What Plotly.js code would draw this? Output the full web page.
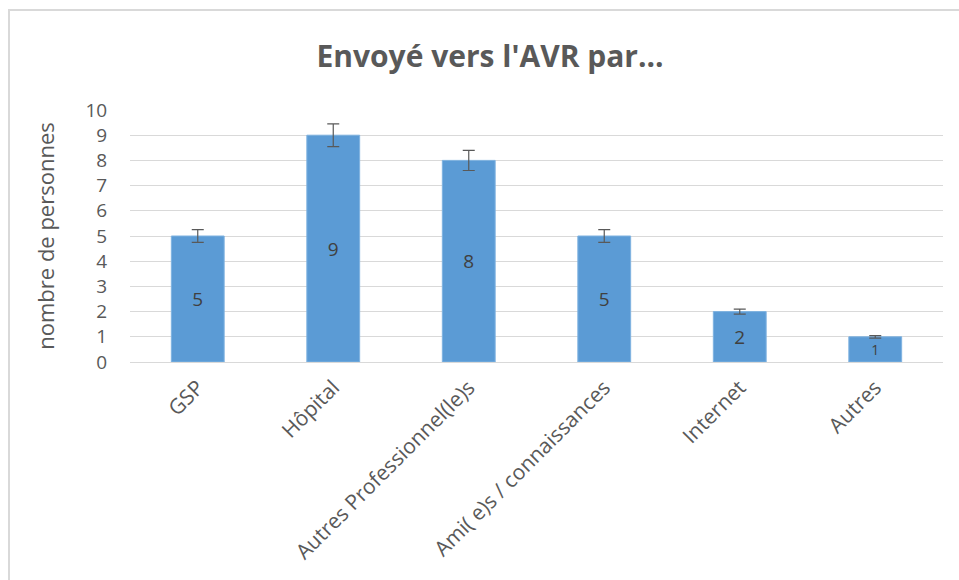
<!DOCTYPE html>
<html>
<head>
<meta charset="utf-8">
<script src="https://cdn.plot.ly/plotly-3.0.1.min.js"></script>
<style>
html,body{margin:0;padding:0;background:#fff;}
#chart{width:959px;height:580px;}
#frame{position:absolute;left:8px;top:9px;width:960px;height:600px;border-top:2px solid #d9d9d9;border-left:2px solid #d9d9d9;pointer-events:none;}
</style>
</head>
<body>
<div id="chart"></div>
<div id="frame"></div>
<script>
const categories = ["GSP", "Hôpital", "Autres Professionnel(le)s", "Ami( e)s / connaissances", "Internet", "Autres"];
const values = [5, 9, 8, 5, 2, 1];
const errorPercent = 5;
const yTicks = [0, 1, 2, 3, 4, 5, 6, 7, 8, 9, 10];

const fontFam = "'Open Sans', 'Noto Sans', sans-serif";

const trace = {
  type: 'bar',
  x: categories,
  y: values,
  text: values.map(String),
  textposition: 'inside',
  insidetextanchor: 'middle',
  textangle: 0,
  textfont: {family: fontFam, size: 19, color: '#404040'},
  marker: {color: '#5b9bd5', line: {color: '#7fb2e0', width: 1}},
  error_y: {type: 'percent', value: errorPercent, visible: true, color: '#595959', thickness: 1.2, width: 6},
  hoverinfo: 'none'
};

const layout = {
  width: 959, height: 580,
  margin: {l: 130, r: 16, t: 110, b: 218},
  paper_bgcolor: '#fff', plot_bgcolor: '#fff',
  showlegend: false,
  bargap: 0.61,
  title: {text: "<b>Envoyé vers l'AVR par...</b>", x: 0.511, xref: 'container', xanchor: 'center', y: 0.902, yref: 'container', yanchor: 'middle',
          font: {family: fontFam, size: 30, color: '#595959'}},
  xaxis: {
    type: 'category', tickangle: -45, showgrid: false, showline: false, zeroline: false,
    ticks: 'outside', ticklen: 4, tickcolor: 'rgba(0,0,0,0)',
    tickfont: {family: fontFam, size: 21, color: '#595959'}, automargin: false
  },
  yaxis: {
    range: [0, 10], tickvals: yTicks, ticktext: yTicks.map(String), showgrid: true, gridcolor: '#d9d9d9', gridwidth: 1,
    zeroline: true, zerolinecolor: '#d9d9d9', zerolinewidth: 1, showline: false,
    ticks: 'outside', ticklen: 18, tickcolor: 'rgba(0,0,0,0)',
    tickfont: {family: fontFam, size: 19, color: '#595959'}, automargin: false,
    title: {text: 'nombre de personnes', standoff: 24, font: {family: fontFam, size: 22, color: '#595959'}}
  }
};

Plotly.newPlot('chart', [trace], layout, {displayModeBar: false, staticPlot: true});
</script>
</body>
</html>
